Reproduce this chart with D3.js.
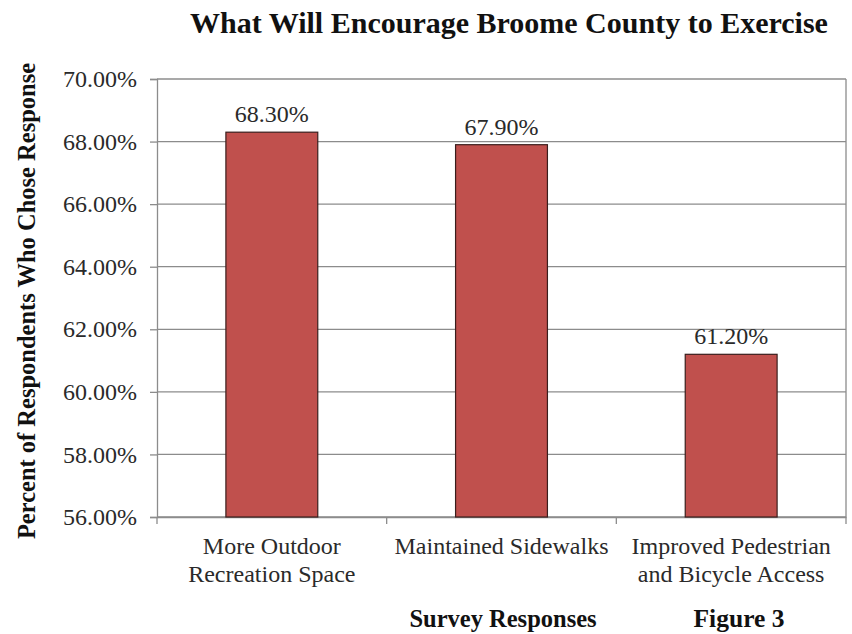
<!DOCTYPE html>
<html><head><meta charset="utf-8">
<script src="https://cdn.jsdelivr.net/npm/d3@7"></script>
<style>body{margin:0;background:#fff}svg{display:block}svg text{font-family:"Liberation Serif","Times New Roman",serif !important}</style>
</head><body>
<svg id="c" width="852" height="634"></svg>
<script>
const categories = [["More Outdoor","Recreation Space"],["Maintained Sidewalks"],["Improved Pedestrian","and Bicycle Access"]];
const values = [68.3, 67.9, 61.2];
const valueLabels = ["68.30%","67.90%","61.20%"];
const yTicks = [56,58,60,62,64,66,68,70];

const svg = d3.select("#c");
const m = {l:157, r:846, t:79, b:517};
const x = d3.scaleBand().domain(d3.range(categories.length)).range([m.l, m.r]).padding(0);
const y = d3.scaleLinear().domain([56,70]).range([m.b, m.t]);
const FS = 24;

// gridlines
svg.append("g").selectAll("line").data(yTicks).join("line")
  .attr("x1", m.l).attr("x2", m.r).attr("y1", d=>y(d)).attr("y2", d=>y(d))
  .attr("stroke","#8c8c8c").attr("stroke-width",1.3);
// right border
svg.append("line").attr("x1",m.r).attr("x2",m.r).attr("y1",m.t).attr("y2",m.b).attr("stroke","#8c8c8c").attr("stroke-width",1.3);

// y axis
const ya = svg.append("g").attr("transform",`translate(${m.l},0)`)
  .call(d3.axisLeft(y).tickValues(yTicks).tickSize(7).tickPadding(13).tickFormat(d=>d.toFixed(2)+"%"));
ya.attr("font-family","Liberation Serif");
ya.select(".domain").attr("stroke","#8c8c8c").attr("stroke-width",1.3);
ya.selectAll(".tick line").attr("stroke","#8c8c8c").attr("stroke-width",1.3);
ya.selectAll("text").attr("font-size",FS).attr("fill","#2a2a2a");

// x axis
const xa = svg.append("g").attr("transform",`translate(0,${m.b})`)
  .call(d3.axisBottom(x).tickSize(0).tickFormat(""));
xa.select(".domain").attr("stroke","#8c8c8c").attr("stroke-width",1.3);
const sep = [0,1,2,3].map(i => m.l + i*x.step());
svg.append("g").selectAll("line").data(sep).join("line")
  .attr("x1",d=>d).attr("x2",d=>d).attr("y1",m.b).attr("y2",m.b+7)
  .attr("stroke","#8c8c8c").attr("stroke-width",1.3);

// category labels
svg.append("g").selectAll("text").data(categories).join("text")
  .attr("x",(d,i)=>x(i)+x.bandwidth()/2).attr("y",554)
  .attr("text-anchor","middle").attr("font-size",FS).attr("fill","#2a2a2a")
  .selectAll("tspan").data(d=>d).join("tspan")
  .attr("x",function(){return this.parentNode.getAttribute("x");})
  .attr("dy",(d,i)=>i?28:0).text(d=>d);

// bars
const bw = x.bandwidth()*0.4;
svg.append("g").selectAll("rect").data(values).join("rect")
  .attr("x",(d,i)=>x(i)+x.bandwidth()/2-bw/2).attr("width",bw)
  .attr("y",d=>y(d)).attr("height",d=>y(56)-y(d))
  .attr("fill","#c0504d").attr("stroke","#3a1e1d").attr("stroke-width",1.2);

// value labels
svg.append("g").selectAll("text").data(values).join("text")
  .attr("x",(d,i)=>x(i)+x.bandwidth()/2).attr("y",d=>y(d)-10)
  .attr("text-anchor","middle").attr("font-size",FS).attr("fill","#2a2a2a")
  .text((d,i)=>valueLabels[i]);

// title
svg.append("text").attr("x",509).attr("y",33).attr("text-anchor","middle")
  .attr("font-size",30).attr("font-weight","bold").attr("fill","#111")
  .text("What Will Encourage Broome County to Exercise");
// y title
svg.append("text").attr("transform","translate(35,301) rotate(-90)").attr("text-anchor","middle")
  .attr("font-size",24.5).attr("font-weight","bold").attr("fill","#111")
  .text("Percent of Respondents Who Chose Response");
// x title
svg.append("text").attr("x",503).attr("y",627).attr("text-anchor","middle")
  .attr("font-size",24.5).attr("font-weight","bold").attr("fill","#111").text("Survey Responses");
svg.append("text").attr("x",739).attr("y",627).attr("text-anchor","middle")
  .attr("font-size",25.5).attr("font-weight","bold").attr("fill","#111").text("Figure 3");
</script>
</body></html>
